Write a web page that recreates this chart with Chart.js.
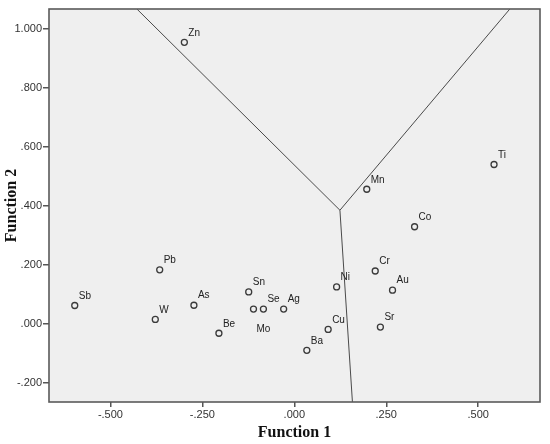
<!DOCTYPE html>
<html>
<head>
<meta charset="utf-8">
<script src="https://cdn.jsdelivr.net/npm/chart.js@4/dist/chart.umd.min.js"></script>
<style>
  html, body { margin: 0; padding: 0; background: #ffffff; }
  #c { display: block; }
</style>
</head>
<body>
<canvas id="c" width="550" height="444"></canvas>
<script>
// ---- Data ----
const elements = ['Zn','Sb','Pb','W','As','Be','Sn','Mo','Se','Ag','Ni','Cu','Ba','Cr','Au','Sr','Mn','Co','Ti'];
const function1 = [-0.299,-0.597,-0.366,-0.378,-0.273,-0.205,-0.124,-0.111,-0.084,-0.029,0.115,0.092,0.034,0.220,0.267,0.234,0.197,0.327,0.543];
const function2 = [0.954,0.062,0.183,0.015,0.063,-0.032,0.108,0.050,0.050,0.050,0.125,-0.019,-0.090,0.179,0.114,-0.011,0.456,0.329,0.540];

// Territorial map boundaries
const boundaryVX = [-0.428, 0.124, 0.586];
const boundaryVY = [1.067, 0.385, 1.067];
const boundaryStemX = [0.124, 0.158];
const boundaryStemY = [0.385, -0.265];

// Axis ranges and ticks
const xRange = [-0.667, 0.668];
const yRange = [-0.265, 1.067];
const xTickStep = 0.25;
const yTickStep = 0.2;
const xTitle = 'Function 1';
const yTitle = 'Function 2';

// ---- Styling ----
const labelOffsetDefault = [4, -9.5];
const labelOffsetOverride = { 'Mo': [3, 20] };

function fmt(v) {
  const s = (Math.round(v * 1000) / 1000).toFixed(3);
  return s.replace(/^(-?)0\./, '$1.');
}

const pts = elements.map((e, i) => ({ x: function1[i], y: function2[i], label: e }));
const lineV = boundaryVX.map((x, i) => ({ x, y: boundaryVY[i] }));
const lineStem = boundaryStemX.map((x, i) => ({ x, y: boundaryStemY[i] }));

const areaPlugin = {
  id: 'area',
  beforeDatasetsDraw(chart) {
    const { ctx, chartArea: a } = chart;
    ctx.save();
    ctx.fillStyle = '#efefef';
    ctx.fillRect(a.left, a.top, a.right - a.left, a.bottom - a.top);
    ctx.restore();
  },
  afterDatasetsDraw(chart) {
    const { ctx, chartArea: a } = chart;
    // point labels
    const meta = chart.getDatasetMeta(2);
    ctx.save();
    ctx.font = '10px "Liberation Sans", Arial, sans-serif';
    ctx.fillStyle = '#222';
    ctx.textAlign = 'left';
    ctx.textBaseline = 'middle';
    meta.data.forEach((el, i) => {
      const name = elements[i];
      const off = labelOffsetOverride[name] || labelOffsetDefault;
      ctx.fillText(name, el.x + off[0], el.y + off[1]);
    });
    // frame
    ctx.strokeStyle = '#5a5a5a';
    ctx.lineWidth = 1.6;
    ctx.strokeRect(a.left, a.top, a.right - a.left, a.bottom - a.top);
    ctx.restore();
  }
};

new Chart(document.getElementById('c'), {
  type: 'scatter',
  data: {
    datasets: [
      { type: 'line', data: lineV, showLine: true, borderColor: '#4a4a4a', borderWidth: 1, pointRadius: 0, fill: false, tension: 0 },
      { type: 'line', data: lineStem, showLine: true, borderColor: '#4a4a4a', borderWidth: 1, pointRadius: 0, fill: false, tension: 0 },
      { data: pts, pointRadius: 3, pointBorderWidth: 1.3, pointBorderColor: '#3a3a3a', pointBackgroundColor: 'rgba(0,0,0,0)', showLine: false }
    ]
  },
  options: {
    responsive: false,
    animation: false,
    layout: { padding: { left: 0, top: 9, right: 10, bottom: 0 } },
    plugins: { legend: { display: false }, tooltip: { enabled: false } },
    scales: {
      x: {
        type: 'linear',
        min: xRange[0], max: xRange[1],
        afterFit(s) { s.height = 42; },
        border: { display: false },
        grid: { drawOnChartArea: false, drawTicks: true, tickLength: 5, tickColor: '#555', lineWidth: 1.5 },
        ticks: { stepSize: xTickStep, includeBounds: false, padding: 1, color: '#333',
                 font: { family: '"Liberation Sans", Arial, sans-serif', size: 11 },
                 callback: (v) => fmt(v), maxRotation: 0 },
        title: { display: true, text: xTitle, color: '#111', padding: { top: 0, bottom: 2 },
                 font: { family: '"Liberation Serif", "Times New Roman", serif', size: 16, weight: 'bold' } }
      },
      y: {
        type: 'linear',
        min: yRange[0], max: yRange[1],
        afterFit(s) { s.width = 49; },
        border: { display: false },
        grid: { drawOnChartArea: false, drawTicks: true, tickLength: 6, tickColor: '#555', lineWidth: 1.5 },
        ticks: { stepSize: yTickStep, includeBounds: false, padding: 1, color: '#333',
                 font: { family: '"Liberation Sans", Arial, sans-serif', size: 11 },
                 callback: (v) => fmt(v) },
        title: { display: true, text: yTitle, color: '#111', padding: { top: 2, bottom: 0 },
                 font: { family: '"Liberation Serif", "Times New Roman", serif', size: 16, weight: 'bold' } }
      }
    }
  },
  plugins: [areaPlugin]
});
</script>
</body>
</html>
